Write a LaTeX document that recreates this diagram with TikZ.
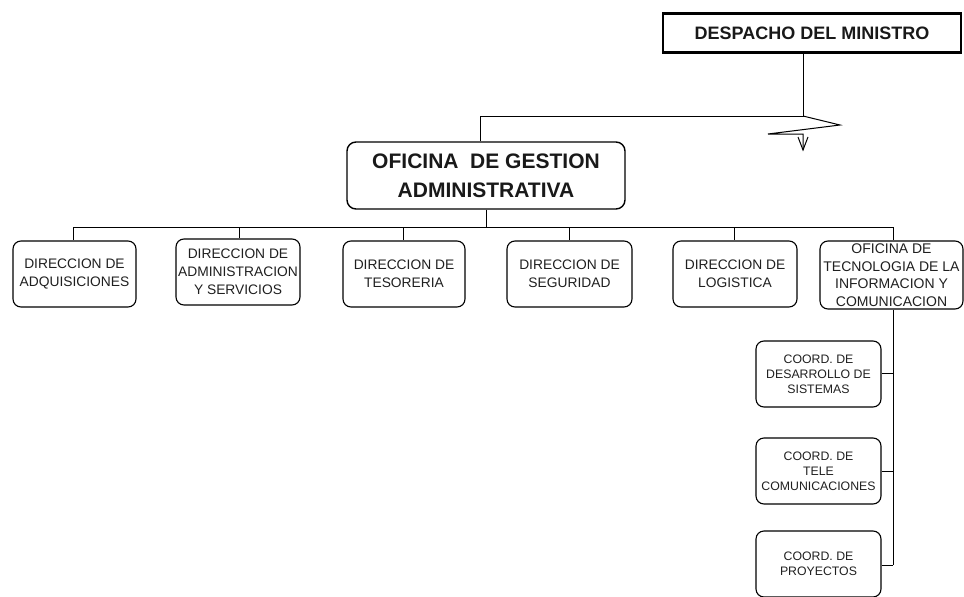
\documentclass[tikz,border=0pt]{standalone}
\usepackage{fontspec}
\setmainfont{Liberation Sans}
\begin{document}
\begin{tikzpicture}[x=1pt,y=-1pt,
  headbox/.style={draw, line width=2.4pt, minimum width=298pt, minimum height=39pt,
    inner sep=0pt, font=\fontsize{18}{22}\selectfont\bfseries, text=black!90},
  mainbox/.style={draw, line width=1.4pt, rounded corners=9pt, minimum width=278pt,
    minimum height=67pt, inner sep=0pt, align=center,
    font=\fontsize{21}{29}\selectfont\bfseries, text=black!90},
  unitbox/.style={draw, line width=1.1pt, rounded corners=8pt, minimum width=124pt,
    minimum height=66pt, inner sep=0pt, align=center,
    font=\fontsize{13.8}{18}\selectfont, text=black!88},
  coordbox/.style={draw, line width=1.1pt, rounded corners=8pt, minimum width=125pt,
    minimum height=66pt, inner sep=0pt, align=center,
    font=\fontsize{12.3}{15}\selectfont, text=black!88},
  link/.style={draw, line width=1pt}
]
\useasboundingbox (0,0) rectangle (964,597);

% top level
\node[headbox] (desp) at (812,33) {DESPACHO DEL MINISTRO};

% administrative office
\node[mainbox] (oga) at (486,175.5) {OFICINA\ \ DE GESTION\\ADMINISTRATIVA};

% directorates
\node[unitbox, minimum width=123pt] (adq) at (74.5,274) {DIRECCION DE\\ADQUISICIONES};
\node[unitbox] (adm) at (238,272) {DIRECCION DE\\ADMINISTRACION\\Y SERVICIOS};
\node[unitbox, minimum width=122pt] (tes) at (404,274) {DIRECCION DE\\TESORERIA};
\node[unitbox, minimum width=125pt] (seg) at (569.5,274) {DIRECCION DE\\SEGURIDAD};
\node[unitbox] (log) at (735,274) {DIRECCION DE\\LOGISTICA};
\node[unitbox, minimum width=143pt, minimum height=68pt, font=\fontsize{14}{17.5}\selectfont]
  (otic) at (891.5,275) {OFICINA DE\\TECNOLOGIA DE LA\\INFORMACION Y\\COMUNICACION};

% coordinations
\node[coordbox] (cds) at (818.5,374) {COORD. DE\\DESARROLLO DE\\SISTEMAS};
\node[coordbox] (ctc) at (818.5,471) {COORD. DE\\TELE\\COMUNICACIONES};
\node[coordbox] (cpr) at (818.5,564) {COORD. DE\\PROYECTOS};

% link from the minister's office with break mark
\coordinate (bend) at (803,116);
\coordinate (ogaIn) at (480,116);
\path[link] (desp.south -| bend) -- (bend) -- (ogaIn) -- (ogaIn |- oga.north);
\path[link] (bend) -- (840,125) -- (768,134) -- (803,134) -- (803,150);
\path[link] (798,137) -- (803,150) -- (808,137);

% bus to the directorates
\coordinate (bus) at (486,227);
\path[link] (oga.south) -- (bus);
\path[link] (73,227) -- (893,227);
\foreach \n/\x in {adq/73, adm/239, tes/403, seg/569, log/734, otic/893}
  \path[link] (\x,227) -- (\x,0 |- \n.north);

% spine to the coordinations
\coordinate (spine) at (893,565);
\path[link] (otic.south -| spine) -- (spine);
\foreach \n/\y in {cds/373, ctc/471, cpr/565}
  \path[link] (893,\y) -- (\n.east |- 0,\y);
\end{tikzpicture}
\end{document}
